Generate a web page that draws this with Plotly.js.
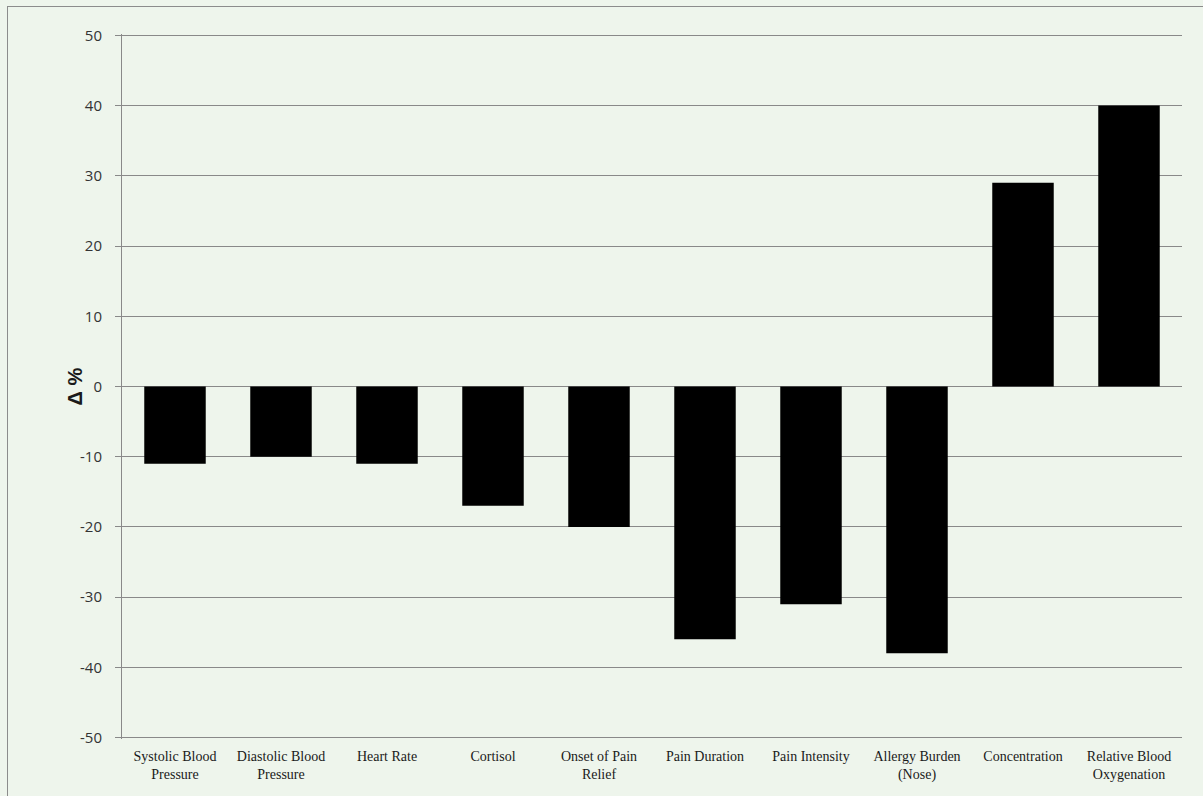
<!DOCTYPE html>
<html><head><meta charset="utf-8">
<script src="https://cdn.plot.ly/plotly-3.0.1.min.js"></script>
<style>
html,body{margin:0;padding:0;background:#eef5ec;overflow:hidden;}
#chart{width:1203px;height:796px;}
#frame{position:absolute;left:7px;top:6px;width:1300px;height:900px;border:1px solid #8c8c8c;pointer-events:none;}
</style></head>
<body>
<div id="chart"></div>
<div id="frame"></div>
<script>
const categories = [
  "Systolic Blood<br>Pressure",
  "Diastolic Blood<br>Pressure",
  "Heart Rate",
  "Cortisol",
  "Onset of Pain<br>Relief",
  "Pain Duration",
  "Pain Intensity",
  "Allergy Burden<br>(Nose)",
  "Concentration",
  "Relative Blood<br>Oxygenation"
];
const deltaPercent = [-11, -10, -11, -17, -20, -36, -31, -38, 29, 40];
const yTicks = [-50, -40, -30, -20, -10, 0, 10, 20, 30, 40, 50];

Plotly.newPlot('chart', [{
  type: 'bar',
  x: categories,
  y: deltaPercent,
  marker: {color: '#000000', line: {width: 0}},
  hoverinfo: 'skip'
}], {
  width: 1203, height: 796,
  paper_bgcolor: '#eef5ec',
  plot_bgcolor: 'rgba(0,0,0,0)',
  margin: {l: 122, r: 21, t: 34, b: 57},
  bargap: 0.42,
  showlegend: false,
  xaxis: {
    type: 'category',
    showgrid: false,
    zeroline: false,
    showline: false,
    ticks: '',
    tickfont: {family: 'Liberation Serif, Times New Roman, serif', size: 14, color: '#1a1a1a'},
    ticklabelstandoff: 7,
    automargin: false
  },
  yaxis: {
    range: [-50.2, 50.2],
    tickvals: yTicks,
    ticktext: yTicks.map(String),
    showgrid: true,
    gridcolor: '#898989',
    gridwidth: 1,
    zeroline: true,
    zerolinecolor: '#898989',
    zerolinewidth: 1,
    showline: true,
    linecolor: '#898989',
    linewidth: 1,
    ticks: 'outside',
    ticklen: 6,
    tickcolor: '#898989',
    ticklabelstandoff: 10,
    tickfont: {family: 'Open Sans, Liberation Sans, sans-serif', size: 15, color: '#333333'},
    automargin: false
  },
  annotations: [{
    text: '<b>Δ %</b>',
    xref: 'paper', yref: 'paper',
    x: 0, y: 0.5,
    xanchor: 'center', yanchor: 'middle',
    xshift: -48,
    textangle: -90,
    showarrow: false,
    font: {family: 'Liberation Sans, Arial, sans-serif', size: 20, color: '#1a1a1a'}
  }]
}, {displayModeBar: false, staticPlot: true});
</script>
</body></html>
